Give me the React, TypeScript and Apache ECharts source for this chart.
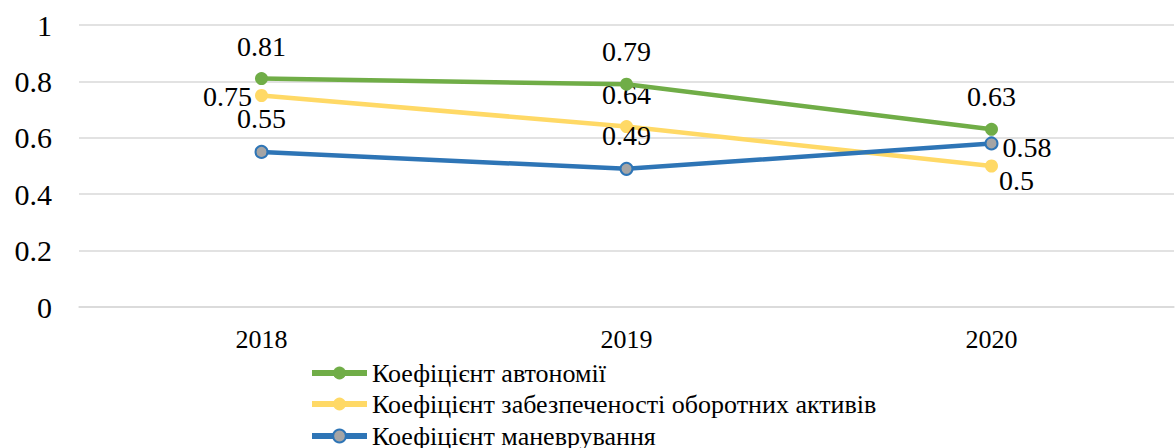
import React, { useEffect, useRef } from "react";
import * as echarts from "echarts";

const categories = ["2018", "2019", "2020"];
const autonomy = [0.81, 0.79, 0.63];
const currentAssets = [0.75, 0.64, 0.5];
const maneuver = [0.55, 0.49, 0.58];
const seriesNames = [
  "Коефіцієнт автономії",
  "Коефіцієнт забезпеченості оборотних активів",
  "Коефіцієнт маневрування",
];

const FONT = "Times New Roman, Liberation Serif, serif";

export default function App() {
  const ref = useRef<HTMLDivElement>(null);
  useEffect(() => {
    const chart = echarts.init(ref.current!, null, { renderer: "svg" });
    const lbl = (extra: any) => ({
      show: true,
      fontFamily: FONT,
      fontSize: 28,
      color: "#000",
      ...extra,
    });
    const yellowLabels = [
      lbl({ position: "left", distance: 3, offset: [0, 1] }),
      lbl({ position: "top", distance: 12 }),
      lbl({ position: "right", distance: 1, offset: [0, 14] }),
    ];
    const blueLabels = [
      lbl({ position: "top", distance: 12 }),
      lbl({ position: "top", distance: 12 }),
      lbl({ position: "right", distance: 4, offset: [0, 4] }),
    ];
    const legendTops = [360, 391, 423];
    chart.setOption({
      animation: false,
      textStyle: { fontFamily: FONT },
      grid: { left: 79, right: 2, top: 25, bottom: 141 },
      xAxis: {
        type: "category",
        data: categories,
        axisLine: { lineStyle: { color: "#d9d9d9", width: 1.5 } },
        axisTick: { show: false },
        axisLabel: { fontFamily: FONT, fontSize: 26, color: "#000", margin: 19 },
      },
      yAxis: {
        type: "value",
        min: 0,
        max: 1,
        interval: 0.2,
        axisLine: { show: false },
        axisTick: { show: false },
        splitLine: { lineStyle: { color: "#d9d9d9", width: 1.5 } },
        axisLabel: { fontFamily: FONT, fontSize: 30, color: "#000", margin: 27 },
      },
      legend: seriesNames.map((n, i) => ({
        orient: "vertical",
        left: 309,
        top: legendTops[i],
        padding: 0,
        itemWidth: 55,
        itemHeight: 16,
        itemGap: 4,
        lineStyle: { width: 6 },
        textStyle: { fontFamily: FONT, fontSize: 26, color: "#000" },
        data: [n],
      })),
      series: [
        {
          name: seriesNames[0],
          type: "line",
          data: autonomy,
          symbol: "circle",
          symbolSize: 13,
          lineStyle: { color: "#70ad47", width: 4.5 },
          itemStyle: { color: "#70ad47" },
          label: lbl({ position: "top", distance: 12 }),
          z: 3,
        },
        {
          name: seriesNames[1],
          type: "line",
          data: currentAssets.map((v, i) => ({ value: v, label: yellowLabels[i] })),
          symbol: "circle",
          symbolSize: 13,
          lineStyle: { color: "#ffd966", width: 4.5 },
          itemStyle: { color: "#ffd966" },
          z: 2,
        },
        {
          name: seriesNames[2],
          type: "line",
          data: maneuver.map((v, i) => ({ value: v, label: blueLabels[i] })),
          symbol: "circle",
          symbolSize: 12,
          lineStyle: { color: "#2e75b6", width: 4.5 },
          itemStyle: { color: "#a5a5a5", borderColor: "#2e75b6", borderWidth: 2 },
          z: 4,
        },
      ],
    });
    return () => chart.dispose();
  }, []);
  return (
    <div
      ref={ref}
      style={{ position: "fixed", left: 0, top: 0, width: 1176, height: 448, background: "#fff" }}
    />
  );
}
